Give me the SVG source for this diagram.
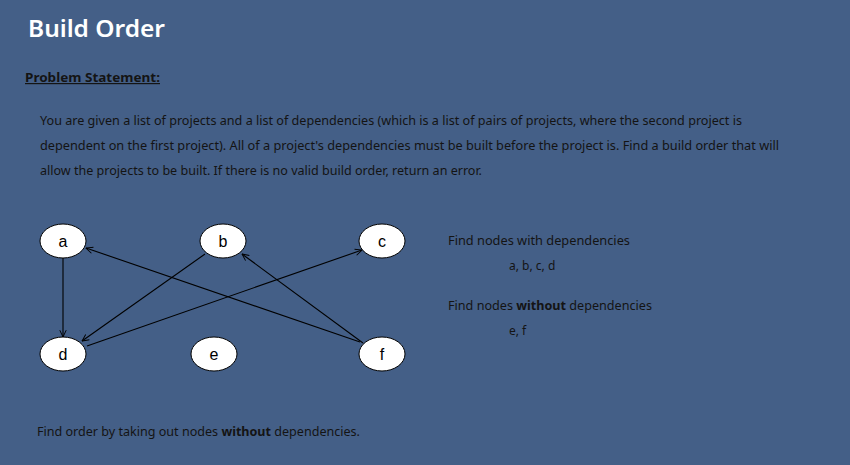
<svg xmlns="http://www.w3.org/2000/svg" width="850" height="465" viewBox="0 0 850 465">
<style>
.t{font-family:"Noto Sans",Lato,"Liberation Sans",sans-serif;fill:#141414;font-size:12px}
.n{fill:#fff;stroke:#000;stroke-width:1}
.nl{font-family:"Liberation Sans",Arial,sans-serif;font-size:16px;fill:#000;text-anchor:middle}
.e{stroke:#000;stroke-width:1.1;fill:none;marker-end:url(#ah)}
</style>
<defs>
<marker id="ah" viewBox="0 0 10 10" refX="9.5" refY="5" markerWidth="8" markerHeight="8" orient="auto" markerUnits="userSpaceOnUse">
<path d="M1,1 L9.5,5 L1,9" fill="none" stroke="#000" stroke-width="1.2"/>
</marker>
</defs>
<rect width="850" height="465" fill="#445f87"/>
<text x="28" y="37" font-family="'Noto Sans',Lato,sans-serif" font-size="24" font-weight="600" fill="#fff" textLength="137" lengthAdjust="spacingAndGlyphs">Build Order</text>
<text x="25" y="82" class="t" font-weight="bold" font-size="12.5" text-decoration="underline" textLength="135" lengthAdjust="spacingAndGlyphs">Problem Statement:</text>
<text x="40" y="125" class="t" textLength="702" lengthAdjust="spacingAndGlyphs">You are given a list of projects and a list of dependencies (which is a list of pairs of projects, where the second project is</text>
<text x="40" y="150" class="t" textLength="739" lengthAdjust="spacingAndGlyphs">dependent on the first project). All of a project's dependencies must be built before the  project is. Find a build order that will</text>
<text x="40" y="175" class="t" textLength="442" lengthAdjust="spacingAndGlyphs">allow the projects to be built. If there is no valid build order, return an error.</text>
<g id="edges">
<line class="e" x1="63" y1="258" x2="63" y2="337"/>
<line class="e" x1="205" y1="254" x2="82" y2="341"/>
<line class="e" x1="87" y1="346" x2="362" y2="250"/>
<line class="e" x1="360" y1="342" x2="86" y2="248"/>
<line class="e" x1="363" y1="343" x2="242" y2="254"/>
</g>
<g id="node-a"><ellipse class="n" cx="63" cy="241" rx="23" ry="17"/><text class="nl" x="63" y="247">a</text></g>
<g id="node-b"><ellipse class="n" cx="223" cy="241" rx="23" ry="17"/><text class="nl" x="223" y="247">b</text></g>
<g id="node-c"><ellipse class="n" cx="382" cy="241" rx="23" ry="17"/><text class="nl" x="382" y="247">c</text></g>
<g id="node-d"><ellipse class="n" cx="63" cy="354" rx="23" ry="17"/><text class="nl" x="63" y="360">d</text></g>
<g id="node-e"><ellipse class="n" cx="214" cy="354" rx="23" ry="17"/><text class="nl" x="214" y="360">e</text></g>
<g id="node-f"><ellipse class="n" cx="382" cy="354" rx="23" ry="17"/><text class="nl" x="382" y="360">f</text></g>
<text x="448" y="245" class="t" textLength="182" lengthAdjust="spacingAndGlyphs">Find nodes with dependencies</text>
<text x="509" y="270" class="t">a, b, c, d</text>
<text x="448" y="310" class="t" textLength="204" lengthAdjust="spacingAndGlyphs">Find nodes <tspan font-weight="bold">without</tspan> dependencies</text>
<text x="509" y="335" class="t">e, f</text>
<text x="37" y="436" class="t" textLength="323" lengthAdjust="spacingAndGlyphs">Find order by taking out nodes <tspan font-weight="bold">without</tspan> dependencies.</text>
</svg>
